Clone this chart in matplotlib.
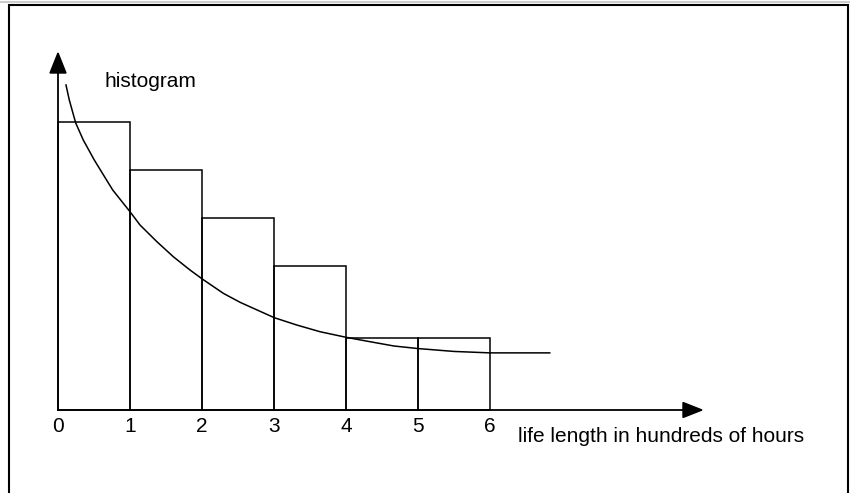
import matplotlib
matplotlib.use("Agg")
import matplotlib.pyplot as plt
from matplotlib.patches import Polygon, Rectangle

# histogram of life lengths (bins of 100 hours)
bin_edges = [0, 1, 2, 3, 4, 5, 6]
bin_heights = [6, 5, 4, 3, 1.5, 1.5]
tick_labels = ["0", "1", "2", "3", "4", "5", "6"]

# density curve, points
curve_x = [0.111, 0.157, 0.246, 0.351, 0.504, 0.593, 0.760, 1.0, 1.139, 1.371,
           1.601, 1.833, 2.004, 2.296, 2.528, 2.713, 3.004, 3.315, 3.639, 4.0,
           4.333, 4.667, 5.0, 5.5, 6.0, 6.83]
curve_y = [6.771, 6.458, 5.979, 5.625, 5.208, 4.99, 4.583, 4.131, 3.854, 3.51,
           3.194, 2.917, 2.729, 2.431, 2.244, 2.119, 1.923, 1.771, 1.631, 1.515,
           1.423, 1.333, 1.28, 1.22, 1.19, 1.19]

W, H = 850, 493
x0_px, y0_px = 58, 410      # origin in pixels
ux, uy = 72.0, 48.0          # pixels per unit

plt.rcParams['font.family'] = ['Liberation Sans', 'DejaVu Sans']

fig = plt.figure(figsize=(W / 100.0, H / 100.0), dpi=100)
ax = fig.add_axes([0, 0, 1, 1])
ax.set_xlim(-x0_px / ux, (W - x0_px) / ux)
ax.set_ylim(-(H - y0_px) / uy, y0_px / uy)
ax.axis("off")

# outer frame
fig.patches.append(Rectangle((9.0 / W, -0.05), 839.0 / W, 1 - 5.0 / H + 0.05,
                             transform=fig.transFigure, fill=False,
                             edgecolor="black", lw=1.5))
fig.lines.append(plt.Line2D([0, 1], [1 - 1.5 / H] * 2, transform=fig.transFigure,
                            color="#cccccc", lw=1.5))

# bars
lefts = bin_edges[:-1]
ax.bar(lefts, bin_heights, width=1.0, align="edge", fill=False,
       edgecolor="black", lw=1.1)

# curve
ax.plot(curve_x, curve_y, color="black", lw=1.1, solid_joinstyle="round")

# axes with arrow heads
x_tip = (702 - x0_px) / ux
y_tip = (y0_px - 53) / uy
ax.plot([0, x_tip - 0.1], [0, 0], color="black", lw=1.3)
ax.plot([0, 0], [0, y_tip - 0.1], color="black", lw=1.3)
hx = 19 / ux
hy = 7.5 / uy
ax.add_patch(Polygon([(x_tip, 0), (x_tip - hx, hy), (x_tip - hx, -hy)],
                     closed=True, color="black"))
vx = 8 / ux
vy = 20 / uy
ax.add_patch(Polygon([(0, y_tip), (-vx, y_tip - vy), (vx, y_tip - vy)],
                     closed=True, color="black"))

# tick labels
for e, lab in zip(bin_edges, tick_labels):
    ax.text(e, -16 / uy, lab, ha="center", va="center", fontsize=15)

ax.text((104 - x0_px) / ux, (y0_px - 82) / uy, "histogram", ha="left",
        va="center", fontsize=15)
ax.text((518 - x0_px) / ux, (y0_px - 436) / uy, "life length in hundreds of hours",
        ha="left", va="center", fontsize=15)

fig.savefig("out.png", dpi=100)
